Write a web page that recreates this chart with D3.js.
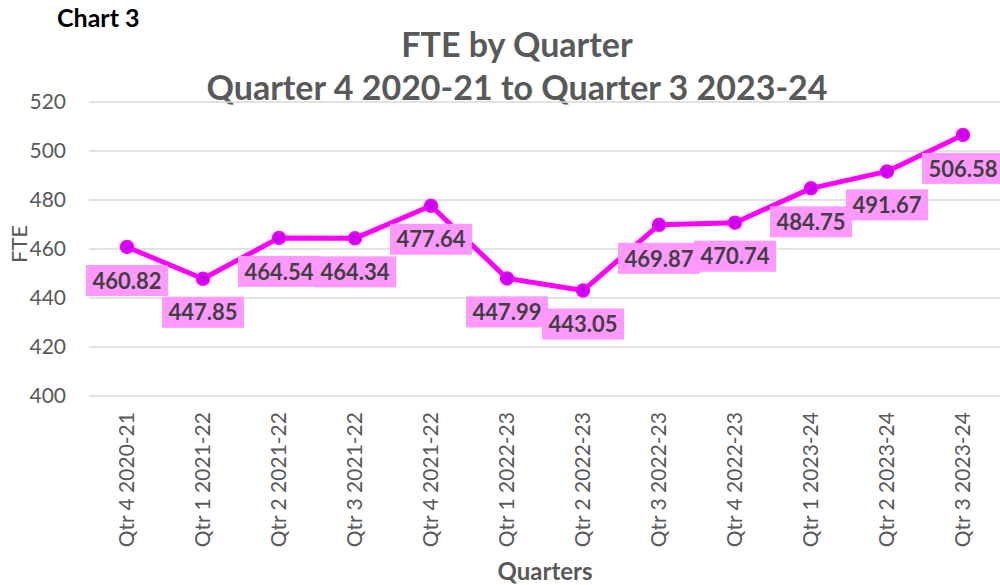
<!DOCTYPE html>
<html>
<head>
<meta charset="utf-8">
<script src="https://cdn.jsdelivr.net/npm/d3@7"></script>
<style>
  body { margin: 0; background: #fff; }
  text { font-family: Lato, "Open Sans", sans-serif; }
</style>
</head>
<body>
<svg id="chart" width="1000" height="585"></svg>
<script>
let quarters = ["Qtr 4 2020-21", "Qtr 1 2021-22", "Qtr 2 2021-22", "Qtr 3 2021-22", "Qtr 4 2021-22",
  "Qtr 1 2022-23", "Qtr 2 2022-23", "Qtr 3 2022-23", "Qtr 4 2022-23", "Qtr 1 2023-24",
  "Qtr 2 2023-24", "Qtr 3 2023-24"];
let fteValues = [460.82, 447.85, 464.54, 464.34, 477.64, 447.99, 443.05, 469.87, 470.74, 484.75, 491.67, 506.58];
let yTicks = [400, 420, 440, 460, 480, 500, 520];

let lineColor = "#ff00ff";
let markerColor = "#cc00ee";
let labelFill = "#ff99ff";
let textColor = "#404040";
let axisColor = "#595959";
let gridColor = "#d9d9d9";

let svg = d3.select("#chart");

let x = d3.scaleBand().domain(quarters).range([89, 1001]);
let y = d3.scaleLinear().domain([400, 520]).range([396, 102]);

// titles
svg.append("text").attr("x", 57).attr("y", 27)
  .attr("font-size", 25).attr("font-weight", "bold").attr("fill", "#000")
  .text("Chart 3");
svg.append("text").attr("x", 517).attr("y", 57).attr("text-anchor", "middle")
  .attr("font-size", 34).attr("font-weight", "bold").attr("fill", axisColor)
  .text("FTE by Quarter");
svg.append("text").attr("x", 517).attr("y", 100).attr("text-anchor", "middle")
  .attr("font-size", 34).attr("font-weight", "bold").attr("fill", axisColor)
  .text("Quarter 4 2020-21 to Quarter 3 2023-24");

// grid
svg.append("g").selectAll("line").data(yTicks).join("line")
  .attr("x1", 89).attr("x2", 1000)
  .attr("y1", d => y(d)).attr("y2", d => y(d))
  .attr("stroke", gridColor).attr("stroke-width", 1.3);

// y axis
let yAxis = svg.append("g").attr("transform", "translate(89,0)")
  .call(d3.axisLeft(y).tickValues(yTicks).tickSize(0).tickPadding(23));
yAxis.select(".domain").remove();
yAxis.selectAll("text").attr("font-size", 21).attr("fill", axisColor)
  .style("font-family", "Lato, sans-serif");

svg.append("text").attr("transform", "translate(27,244) rotate(-90)")
  .attr("text-anchor", "middle").attr("font-size", 22).attr("fill", axisColor)
  .text("FTE");

// x axis
let xAxis = svg.append("g").attr("transform", "translate(0,396)")
  .call(d3.axisBottom(x).tickSize(0).tickPadding(0));
xAxis.select(".domain").remove();
xAxis.selectAll("text")
  .attr("font-size", 21).attr("fill", axisColor)
  .style("font-family", "Lato, sans-serif")
  .attr("text-anchor", "end")
  .attr("transform", "translate(0,16) rotate(-90)")
  .attr("dx", 0).attr("dy", "0.35em").attr("y", 0).attr("x", 0);

svg.append("text").attr("x", 545).attr("y", 580).attr("text-anchor", "middle")
  .attr("font-size", 24).attr("font-weight", "bold").attr("fill", axisColor)
  .text("Quarters");

// line
let cx = (d, i) => x(quarters[i]) + x.bandwidth() / 2;
let line = d3.line().x(cx).y(d => y(d));
svg.append("path").datum(fteValues)
  .attr("d", line).attr("fill", "none")
  .attr("stroke", lineColor).attr("stroke-width", 5).attr("stroke-linejoin", "round");

svg.append("g").selectAll("circle").data(fteValues).join("circle")
  .attr("cx", cx).attr("cy", d => y(d)).attr("r", 6.5)
  .attr("fill", markerColor).attr("stroke", lineColor).attr("stroke-width", 1.5);

// data labels
let labels = svg.append("g").selectAll("g").data(fteValues).join("g")
  .attr("transform", (d, i) => "translate(" + cx(d, i) + "," + (y(d) + 34) + ")");
labels.append("rect")
  .attr("x", -41).attr("y", -16).attr("width", 82).attr("height", 31)
  .attr("fill", labelFill);
labels.append("text")
  .attr("text-anchor", "middle").attr("dy", "0.35em")
  .attr("font-size", 22).attr("font-weight", "bold").attr("fill", textColor)
  .text(d => d.toFixed(2));
</script>
</body>
</html>
